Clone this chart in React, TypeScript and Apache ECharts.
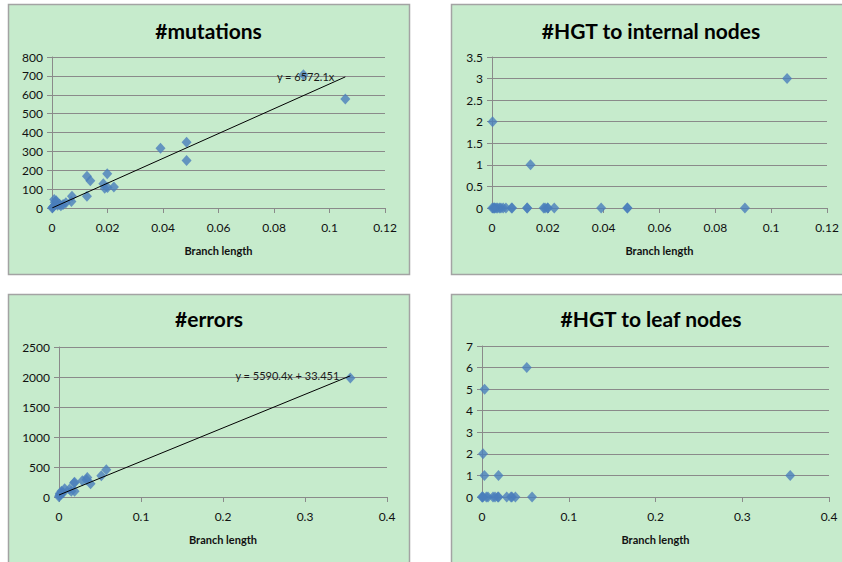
import React, { useEffect, useRef } from "react";
import * as echarts from "echarts";

// ---- data ----
const topBranchLength = [0.1057, 0.0906, 0.0485, 0.0485, 0.0391, 0.0199, 0.0223, 0.0185, 0.019, 0.02, 0.0126, 0.0138, 0.0126, 0.0072, 0.007, 0.005, 0.004, 0.0032, 0.0027, 0.002, 0.0015, 0.001, 0.0008, 0.0005, 0.0002, 0.0001];
const mutations = [577, 706, 348, 252, 316, 182, 111, 128, 105, 108, 168, 145, 62, 62, 35, 28, 18, 12, 20, 15, 38, 30, 45, 8, 2, 0];
const hgtInternal = [3, 0, 0, 0, 0, 0, 0, 0, 0, 0, 0, 1, 0, 0, 0, 0, 0, 0, 0, 0, 0, 0, 0, 0, 2, 0];

const bottomBranchLength = [0.3553, 0.0577, 0.0516, 0.0385, 0.0345, 0.0335, 0.0285, 0.019, 0.0183, 0.019, 0.015, 0.0127, 0.0069, 0.005, 0.003, 0.0028, 0.0012, 0.001, 0.0005, 0.0];
const errors = [1985, 454, 354, 221, 326, 288, 271, 245, 232, 94, 94, 130, 138, 70, 94, 50, 39, 60, 20, 5];
const hgtLeaf = [1, 0, 6, 0, 0, 0, 0, 1, 0, 0, 0, 0, 0, 0, 5, 1, 2, 0, 0, 0];

const mutationTrend = { slope: 6572.1, intercept: 0, text: "y = 6572.1x" };
const errorTrend = { slope: 5590.4, intercept: 33.451, text: "y = 5590.4x + 33.451" };

const titles = ["#mutations", "#HGT to internal nodes", "#errors", "#HGT to leaf nodes"];
const xAxisName = "Branch length";

const FONT = 'Lato, "Liberation Sans", sans-serif';
const GREY = "#8a8a8a";
const BLUE = "#4a7ebb";

function pairs(xs: number[], ys: number[]) {
  return xs.map((x, i) => [x, ys[i]]);
}

function trendData(xs: number[], t: { slope: number; intercept: number; text: string }) {
  const lo = Math.min(...xs);
  const hi = Math.max(...xs);
  return [
    { value: [lo, t.slope * lo + t.intercept], label: { show: false } },
    {
      value: [hi, t.slope * hi + t.intercept],
      label: {
        show: true,
        formatter: t.text,
        position: "left",
        distance: 11,
        color: "#1a1a1a",
        fontSize: 11,
        fontFamily: FONT,
      },
    },
  ];
}

export default function App() {
  const ref = useRef<HTMLDivElement>(null);
  useEffect(() => {
    if (!ref.current) return;
    const chart = echarts.init(ref.current, null, { renderer: "svg" });

    const panels = [
      { x: 8.5, y: 4.5, w: 401, h: 270 },
      { x: 451.5, y: 4.5, w: 400, h: 270 },
      { x: 8.5, y: 294.5, w: 401, h: 275 },
      { x: 451.5, y: 294.5, w: 400, h: 275 },
    ];
    const titleCenters = [
      [208.5, 30],
      [651, 30],
      [209, 318],
      [651, 318],
    ];

    const grids = [
      { left: 52, top: 57, width: 333, height: 151 },
      { left: 492, top: 57, width: 335, height: 151 },
      { left: 59, top: 347, width: 328, height: 150 },
      { left: 482, top: 346, width: 347, height: 151 },
    ];
    const xRanges = [
      [0.12, 0.02],
      [0.12, 0.02],
      [0.4, 0.1],
      [0.4, 0.1],
    ];
    const yRanges = [
      [800, 100],
      [3.5, 0.5],
      [2500, 500],
      [7, 1],
    ];

    const fmt = (v: number) => String(Math.round(v * 1000) / 1000);

    const xAxis = grids.map((_, i) => ({
      type: "value",
      gridIndex: i,
      min: 0,
      max: xRanges[i][0],
      interval: xRanges[i][1],
      axisLine: { show: true, onZero: false, lineStyle: { color: GREY, width: 1 } },
      axisTick: { show: true, length: 5, lineStyle: { color: GREY } },
      splitLine: { show: false },
      axisLabel: { color: "#111", fontSize: 12, fontFamily: FONT, margin: 13, formatter: fmt },
      name: xAxisName,
      nameLocation: "middle",
      nameGap: 37,
      nameTextStyle: { color: "#111", fontSize: 11, fontWeight: "bold", fontFamily: FONT },
    }));
    const yAxis = grids.map((_, i) => ({
      type: "value",
      gridIndex: i,
      min: 0,
      max: yRanges[i][0],
      interval: yRanges[i][1],
      axisLine: { show: true, lineStyle: { color: GREY, width: 1 } },
      axisTick: { show: true, length: 5, lineStyle: { color: GREY } },
      splitLine: { show: true, lineStyle: { color: GREY, width: 1 } },
      axisLabel: { color: "#111", fontSize: 12, fontFamily: FONT, margin: 9, formatter: fmt },
    }));

    const scatterBase = {
      type: "scatter",
      symbol: "diamond",
      symbolSize: [10, 11],
      itemStyle: { color: BLUE },
      z: 3,
    };
    const lineBase = {
      type: "line",
      symbol: "circle",
      symbolSize: 0.1,
      showSymbol: true,
      itemStyle: { color: "transparent" },
      lineStyle: { color: "#000", width: 1 },
      z: 4,
    };

    const series = [
      { ...scatterBase, xAxisIndex: 0, yAxisIndex: 0, data: pairs(topBranchLength, mutations) },
      { ...lineBase, xAxisIndex: 0, yAxisIndex: 0, data: trendData(topBranchLength, mutationTrend) },
      { ...scatterBase, xAxisIndex: 1, yAxisIndex: 1, data: pairs(topBranchLength, hgtInternal) },
      { ...scatterBase, xAxisIndex: 2, yAxisIndex: 2, data: pairs(bottomBranchLength, errors) },
      { ...lineBase, xAxisIndex: 2, yAxisIndex: 2, data: trendData(bottomBranchLength, errorTrend) },
      { ...scatterBase, xAxisIndex: 3, yAxisIndex: 3, data: pairs(bottomBranchLength, hgtLeaf) },
    ];

    const graphic: any[] = [];
    panels.forEach((p) => {
      graphic.push({
        type: "rect",
        z: -10,
        silent: true,
        shape: { x: p.x, y: p.y, width: p.w, height: p.h },
        style: { fill: "#c6ebcc", stroke: "#a3a3a3", lineWidth: 1.5 },
      });
    });
    titles.forEach((t, i) => {
      graphic.push({
        type: "text",
        z: 10,
        x: titleCenters[i][0],
        y: titleCenters[i][1],
        style: {
          text: t,
          fill: "#000",
          font: `bold 21px ${FONT}`,
          textAlign: "center",
          textVerticalAlign: "middle",
        },
      });
    });

    chart.setOption({
      animation: false,
      backgroundColor: "#ffffff",
      grid: grids.map((g) => ({ ...g, containLabel: false })),
      xAxis,
      yAxis,
      series,
      graphic,
    });
    return () => chart.dispose();
  }, []);

  return (
    <div
      ref={ref}
      style={{ position: "absolute", left: 0, top: 0, width: 842, height: 562 }}
    />
  );
}
